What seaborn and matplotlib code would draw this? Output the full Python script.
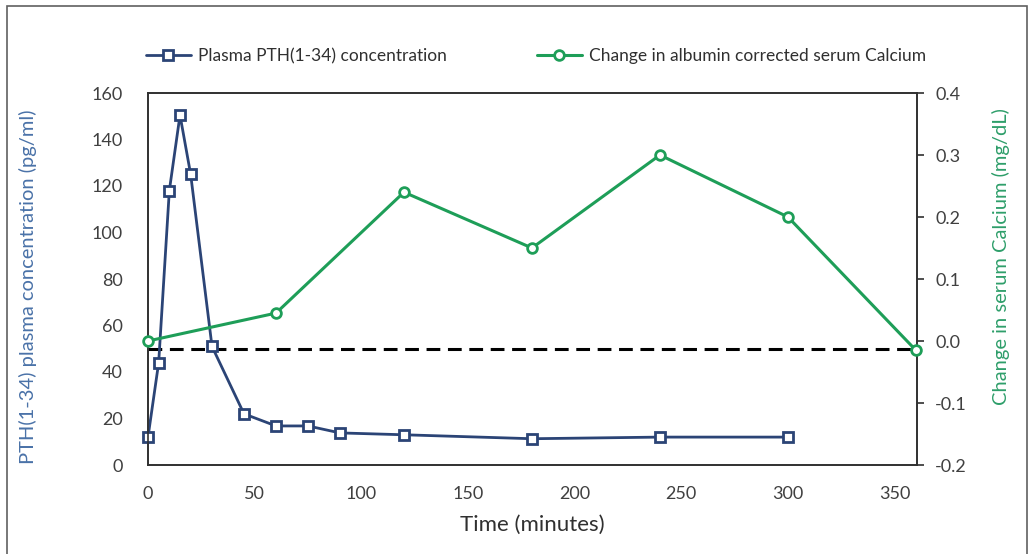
import numpy as np
import pandas as pd
import matplotlib
matplotlib.use("Agg")
import matplotlib.pyplot as plt
import seaborn as sns
from matplotlib.patches import Rectangle

# Data
pth_time = [0, 5, 10, 15, 20, 30, 45, 60, 75, 90, 120, 180, 240, 300]
pth_conc = [12, 44, 118, 150.5, 125, 51, 22, 16.8, 16.8, 13.8, 13, 11.3, 12, 12]
ca_time = [0, 60, 120, 180, 240, 300, 360]
ca_change = [0.0, 0.045, 0.24, 0.15, 0.30, 0.20, -0.015]
threshold = 50
x_ticks = [0, 50, 100, 150, 200, 250, 300, 350]
left_ticks = [0, 20, 40, 60, 80, 100, 120, 140, 160]
right_ticks = [-0.2, -0.1, 0.0, 0.1, 0.2, 0.3, 0.4]

sns.set_style("white")
plt.rcParams['font.family'] = ['Lato', 'DejaVu Sans']

navy = "#2B4476"
green = "#1E9E58"
left_lab = "#4A72A8"
right_lab = "#2E9E6A"
tick_col = "#404040"

fig = plt.figure(figsize=(10.33, 5.54), dpi=100)
ax = fig.add_axes([148/1033, 1-465/554, (917-148)/1033, (465-93)/554])
ax2 = ax.twinx()

df1 = pd.DataFrame({"t": pth_time, "v": pth_conc})
df2 = pd.DataFrame({"t": ca_time, "v": ca_change})

ax.axhline(threshold, color="black", lw=2.2, ls=(0, (4.5, 2.5)), zorder=1)
sns.lineplot(data=df1, x="t", y="v", ax=ax, color=navy, lw=2, marker="s",
             markersize=11, markerfacecolor="white", markeredgecolor=navy,
             markeredgewidth=2, label="Plasma PTH(1-34) concentration", zorder=3,
             clip_on=False)
sns.lineplot(data=df2, x="t", y="v", ax=ax2, color=green, lw=2.2, marker="o",
             markersize=10, markerfacecolor="white", markeredgecolor=green,
             markeredgewidth=2, label="Change in albumin corrected serum Calcium", zorder=3,
             clip_on=False)

ax.set_xlim(0, 360.5)
ax.set_ylim(0, 160)
ax2.set_ylim(-0.2, 0.4)
ax.set_xticks(x_ticks)
ax.set_yticks(left_ticks)
ax2.set_yticks(right_ticks)
ax2.set_yticklabels([f"{v:.1f}" for v in right_ticks])

for a in (ax, ax2):
    for s in a.spines.values():
        s.set_color("#303030")
        s.set_linewidth(1.2)
ax.tick_params(axis="y", length=0, labelsize=13, colors=tick_col, pad=18)
ax.tick_params(axis="x", length=0, labelsize=13, colors=tick_col, pad=15)
ax2.tick_params(axis="y", length=5, direction="out", width=1.2, labelsize=13,
                colors=tick_col, pad=8)
ax2.tick_params(axis="y", color="#303030")

ax.set_xlabel("Time (minutes)", fontsize=16, color="#303030")
ax.xaxis.set_label_coords(0.5, (465-515)/372)
ax.set_ylabel("PTH(1-34) plasma concentration (pg/ml)", fontsize=14.5, color=left_lab)
ax.yaxis.set_label_coords((37-148)/769, (465-287)/372)
ax2.set_ylabel("Change in serum Calcium (mg/dL)", fontsize=14.5, color=right_lab)
ax2.yaxis.set_label_coords((992-148)/769, (465-257)/372)

# combined legend
h1, l1 = ax.get_legend_handles_labels()
h2, l2 = ax2.get_legend_handles_labels()
ax.get_legend().remove()
ax2.get_legend().remove()
for h in h1 + h2:
    h.set_markersize(7)
fig.legend(h1 + h2, l1 + l2, loc="center left", bbox_to_anchor=(130/1033, 1-56/554),
           ncol=2, frameon=False, fontsize=12.5, columnspacing=5.2, handlelength=2.6,
           handletextpad=0.4, labelcolor="#303030")

fig.patches.append(Rectangle((0.007, -0.01), 0.987, 1.0, transform=fig.transFigure,
                             fill=False, edgecolor="#606060", lw=1.2))

fig.savefig("out.png", dpi=100)
